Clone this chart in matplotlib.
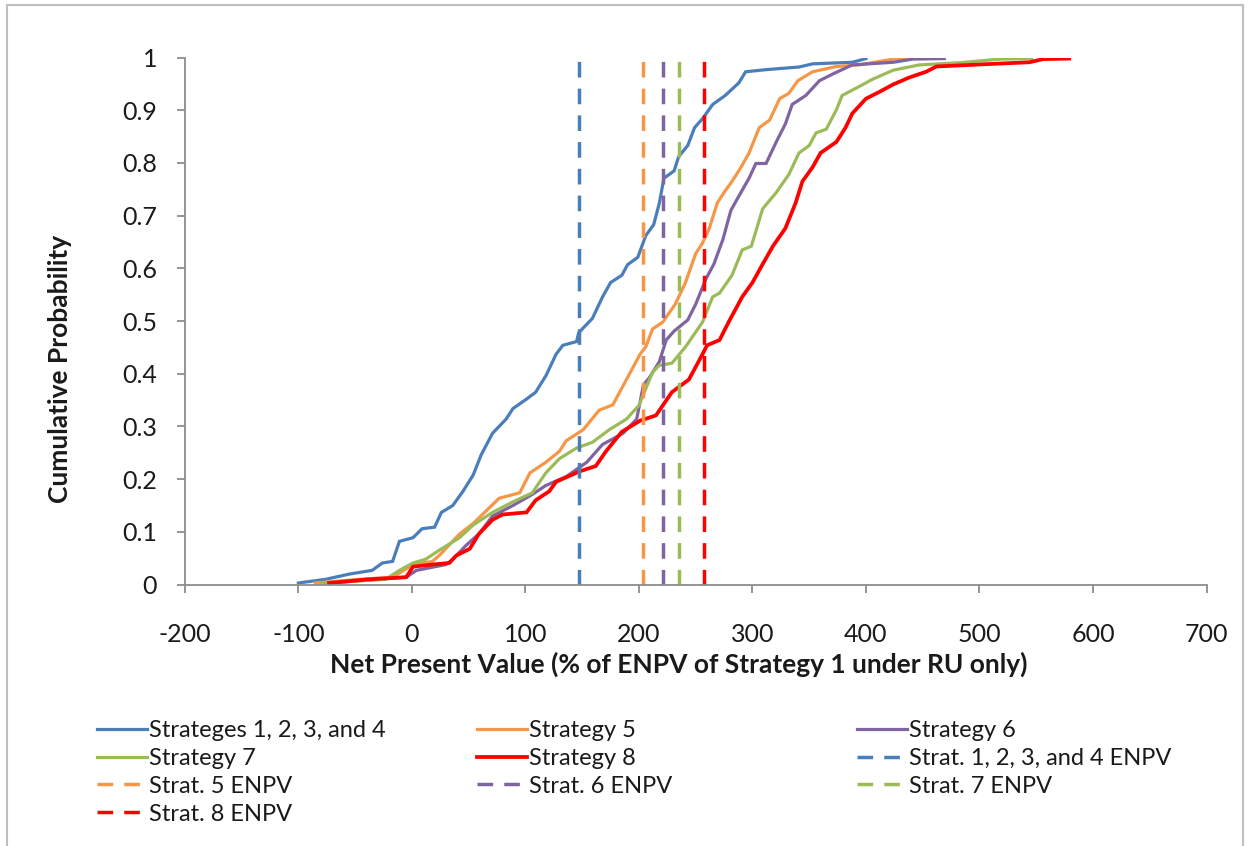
import matplotlib
matplotlib.use("Agg")
import matplotlib.pyplot as plt
from matplotlib.patches import Rectangle

plt.rcParams['font.family'] = ['Lato', 'DejaVu Sans']
plt.rcParams['axes.unicode_minus'] = False

# cumulative distributions
s1234_x = [-100, -76, -55, -35, -26, -17, -11, 1, 9, 20, 26, 36, 45, 54, 61, 71, 83, 89, 101, 109,
           118, 127, 133, 145, 147, 159, 168, 175, 185, 190, 199, 206, 213, 218, 222, 231, 235, 243,
           249, 256, 265, 276, 288, 294, 312, 341, 353, 388, 400]
s1234_y = [.003, .01, .02, .027, .041, .044, .082, .089, .106, .109, .137, .15, .177, .208, .246, .287,
           .314, .334, .352, .365, .396, .437, .454, .461, .478, .505, .546, .573, .587, .607, .621,
           .662, .683, .724, .771, .785, .812, .833, .867, .884, .911, .928, .952, .973, .977, .982,
           .988, .991, .998]

s5_x = [-85, -46, -17, 1, 18, 24, 42, 54, 77, 95, 104, 118, 130, 136, 151, 165, 177, 189, 201, 206,
        212, 221, 232, 241, 250, 256, 262, 269, 275, 282, 290, 297, 306, 315, 324, 332, 340, 353, 374,
        394, 424, 440]
s5_y = [.003, .01, .014, .038, .044, .055, .096, .116, .164, .174, .212, .232, .253, .273, .294, .331,
        .341, .389, .437, .451, .485, .498, .532, .573, .628, .648, .676, .724, .744, .765, .792, .819,
        .867, .881, .922, .932, .956, .973, .983, .986, .997, .998]

s6_x = [-73, -5, 4, 30, 36, 48, 59, 71, 89, 106, 118, 136, 154, 168, 186, 198, 204, 209, 218, 224,
        231, 243, 250, 259, 266, 274, 281, 288, 297, 303, 312, 321, 329, 335, 347, 359, 371, 388, 424,
        441, 469]
s6_y = [.003, .014, .027, .038, .048, .075, .096, .13, .15, .171, .188, .205, .232, .266, .287, .314,
        .379, .392, .423, .464, .481, .502, .532, .58, .608, .655, .71, .737, .771, .799, .799, .84,
        .874, .911, .928, .956, .969, .986, .991, .997, .998]

s7_x = [-79, -23, -11, 1, 12, 24, 42, 54, 71, 89, 106, 118, 130, 145, 159, 174, 189, 200, 212, 218,
        229, 241, 256, 265, 271, 282, 291, 299, 309, 321, 332, 341, 350, 356, 365, 374, 379, 394, 406,
        424, 447, 482, 518, 546]
s7_y = [.003, .01, .027, .041, .048, .065, .089, .113, .137, .157, .174, .212, .239, .259, .27, .294,
        .314, .34, .403, .416, .42, .451, .498, .546, .553, .587, .635, .642, .713, .744, .778, .819,
        .833, .857, .864, .901, .928, .945, .959, .976, .986, .99, .997, .998]

s8_x = [-73, -38, -5, 1, 18, 33, 39, 51, 59, 71, 80, 101, 109, 121, 127, 148, 162, 171, 185, 201,
        215, 229, 244, 256, 260, 271, 279, 291, 300, 309, 318, 329, 338, 344, 353, 360, 374, 382, 388,
        400, 412, 424, 438, 453, 462, 512, 544, 556, 579]
s8_y = [.003, .01, .014, .034, .038, .041, .055, .068, .096, .123, .133, .137, .16, .177, .195, .215,
        .225, .253, .29, .311, .321, .365, .389, .437, .454, .464, .498, .546, .573, .608, .642, .676,
        .724, .765, .792, .819, .84, .867, .894, .922, .935, .949, .962, .973, .983, .988, .991, .997,
        .998]

enpv = [147, 204, 221, 235, 257]
curve_names = ["Strateges 1, 2, 3, and 4", "Strategy 5", "Strategy 6", "Strategy 7", "Strategy 8"]
enpv_names = ["Strat. 1, 2, 3, and 4 ENPV", "Strat. 5 ENPV", "Strat. 6 ENPV",
              "Strat. 7 ENPV", "Strat. 8 ENPV"]
colors = ["#4a7ebb", "#f79646", "#8064a2", "#9bbb59", "#ff0000"]

fig = plt.figure(figsize=(12.49, 8.46), dpi=100)
ax = fig.add_axes([0.148, 0.309, 0.818, 0.623])

curves = [(s1234_x, s1234_y), (s5_x, s5_y), (s6_x, s6_y), (s7_x, s7_y), (s8_x, s8_y)]
handles = []
for (xs, ys), c, name in zip(curves, colors, curve_names):
    lw = 2.7 if c == "#ff0000" else 2.3
    h, = ax.plot(xs, ys, color=c, lw=lw, label=name, solid_joinstyle="miter")
    handles.append(h)
for v, c, name in zip(enpv, colors, enpv_names):
    h, = ax.plot([v, v], [0, 1], color=c, lw=2.5, dashes=(4.5, 3.2), label=name)
    handles.append(h)

ax.set_xlim(-200, 700)
ax.set_ylim(0, 1)
ax.set_xticks(range(-200, 701, 100))
ax.set_yticks([i / 10 for i in range(11)])
ax.set_yticklabels([f"{i / 10:g}" for i in range(11)])
for s in ["top", "right"]:
    ax.spines[s].set_visible(False)
for s in ["left", "bottom"]:
    ax.spines[s].set_color("#8c8c8c")
    ax.spines[s].set_linewidth(1.3)
ax.tick_params(axis="both", direction="out", length=6, width=1.3, color="#8c8c8c",
               labelsize=18, labelcolor="#1a1a1a")
ax.tick_params(axis="x", pad=22)
ax.tick_params(axis="y", pad=14)

ax.set_xlabel("Net Present Value (% of ENPV of Strategy 1 under RU only)",
              fontsize=19, fontweight="bold", color="#1a1a1a")
ax.xaxis.label.set_va("center")
ax.xaxis.set_label_coords(0.483, -0.151)
ax.set_ylabel("Cumulative Probability", fontsize=19, fontweight="bold", color="#1a1a1a")
ax.yaxis.label.set_va("center")
ax.yaxis.set_label_coords(-0.122, 0.41)

# legend laid out row by row in three fixed columns, like the original
cols = [handles[0::3], handles[1::3], handles[2::3]]
col_x = [97, 477, 857]
for hs, x0 in zip(cols, col_x):
    lg = fig.legend(handles=hs, loc="upper left", bbox_to_anchor=(x0 / 1249, 1 - 720 / 846),
                    frameon=False, fontsize=17, handlelength=2.1, handletextpad=0.1,
                    labelspacing=0.29, borderpad=0, borderaxespad=0)
    for t in lg.get_texts():
        t.set_color("#1a1a1a")

fig.patches.append(Rectangle((7 / 1249, -0.01), 1236 / 1249, 1 - 5 / 846 + 0.01,
                             transform=fig.transFigure, fill=False,
                             edgecolor="#bfbfbf", lw=1.5))

fig.savefig("out.png", dpi=100)
